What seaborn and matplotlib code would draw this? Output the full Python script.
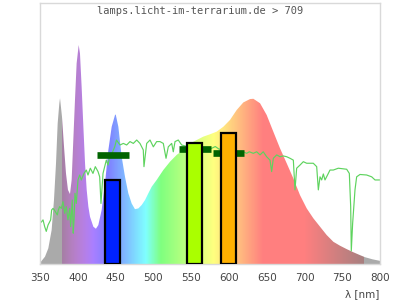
import numpy as np
import matplotlib
matplotlib.use("Agg")
import matplotlib.pyplot as plt
import seaborn as sns

# ---- data ----
spec_nm = [350, 351.3, 356.6, 361, 365.4, 368.5, 371.2, 373.4, 375.6, 376.5, 379.1, 381.8,
           384.4, 387, 389.7, 391.9, 394.1, 396.3, 398.5, 401.2, 402.9, 405.1, 407.4, 409.6,
           411.8, 414, 416.2, 420.6, 424, 427.2, 431.6, 436, 440.5, 444.9, 449.3, 450.2,
           453.7, 458.1, 462.5, 466.9, 471.3, 475.7, 480.2, 484.6, 489, 493.4, 497.8, 504.4,
           513.2, 522.1, 530.9, 539.7, 548.5, 557.4, 566.2, 575, 583.8, 592.7, 601.5, 610.3,
           619.1, 628, 632.4, 641.2, 650, 658.8, 667.7, 676.5, 685.3, 694.1, 703, 711.8,
           720.6, 729.4, 738.3, 747.1, 755.9, 764.7, 773.5, 780.2, 790, 800]
spec_val = [0.005, 0.009, 0.028, 0.06, 0.13, 0.245, 0.386, 0.539, 0.616, 0.635, 0.564, 0.449,
            0.347, 0.284, 0.268, 0.322, 0.475, 0.628, 0.769, 0.839, 0.807, 0.679, 0.526, 0.386,
            0.284, 0.22, 0.181, 0.143, 0.135, 0.149, 0.207, 0.309, 0.437, 0.526, 0.571, 0.573,
            0.526, 0.411, 0.334, 0.271, 0.232, 0.21, 0.213, 0.226, 0.245, 0.271, 0.296, 0.322,
            0.36, 0.392, 0.418, 0.437, 0.462, 0.475, 0.488, 0.497, 0.507, 0.526, 0.552, 0.59,
            0.619, 0.632, 0.633, 0.616, 0.571, 0.507, 0.443, 0.386, 0.328, 0.264, 0.213, 0.175,
            0.143, 0.111, 0.085, 0.07, 0.057, 0.045, 0.034, 0.026, 0.018, 0.012]

sun_nm = [351.5, 354, 356.2, 358.3, 360.6, 364.1, 365.4, 367.2, 369.4, 372.9, 374.3, 376,
          378.2, 380.4, 382.7, 384.8, 387, 389.3, 390.6, 392.7, 394, 395, 396.3, 398, 400.3,
          402.5, 404.7, 408.2, 411.3, 413.5, 416.6, 420.1, 423.2, 426.8, 429, 430.7, 433.4,
          435.6, 437.8, 440, 442.2, 445.3, 448.9, 451.2, 455.9, 460.3, 464.7, 469.1, 473.5,
          478, 482.3, 486.7, 487.6, 491.2, 495.6, 500, 504.4, 508.8, 513.2, 516.8, 519.8,
          524.3, 526.4, 528.7, 533, 537.5, 545, 555, 565, 570, 577, 582, 587, 600, 612, 619,
          623.5, 627, 632.3, 636.8, 641.2, 645.5, 650, 654.4, 656.6, 658.8, 663.3, 667.6,
          672, 676.5, 680.9, 685.3, 687.5, 689.7, 694.1, 698.5, 703, 711.7, 716.2, 718.4,
          720.6, 722.8, 725, 727.2, 731.6, 733.8, 738.2, 744.8, 755.9, 759.4, 761.2, 762,
          763.8, 766.9, 769.1, 773.5, 782.3, 789, 793.4, 800]
sun_val = [0.160, 0.169, 0.143, 0.125, 0.149, 0.169, 0.207, 0.213, 0.205, 0.188, 0.207, 0.22,
           0.213, 0.239, 0.194, 0.22, 0.169, 0.213, 0.143, 0.245, 0.118, 0.169, 0.271, 0.232,
           0.322, 0.341, 0.322, 0.347, 0.36, 0.341, 0.367, 0.347, 0.373, 0.354, 0.334, 0.232,
           0.347, 0.373, 0.398, 0.379, 0.411, 0.424, 0.449, 0.475, 0.456, 0.462, 0.456, 0.469,
           0.462, 0.475, 0.462, 0.437, 0.373, 0.462, 0.475, 0.449, 0.469, 0.469, 0.462, 0.405,
           0.449, 0.462, 0.43, 0.469, 0.475, 0.456, 0.45, 0.44, 0.44, 0.435, 0.443, 0.45, 0.44,
           0.44, 0.43, 0.43, 0.424, 0.43, 0.424, 0.43, 0.418, 0.43, 0.411, 0.398, 0.354, 0.405,
           0.418, 0.411, 0.414, 0.411, 0.405, 0.398, 0.284, 0.367, 0.379, 0.392, 0.386, 0.386,
           0.373, 0.284, 0.334, 0.322, 0.345, 0.322, 0.347, 0.36, 0.36, 0.367, 0.363, 0.347,
           0.22, 0.05, 0.156, 0.284, 0.334, 0.343, 0.341, 0.334, 0.322, 0.322]

bar_nm = [445.5, 554.5, 600]
bar_val = [0.322, 0.465, 0.503]
bar_colors = ["#0022ff", "#aaff00", "#ffb000"]

mark_nm = [446.5, 555.5, 599.5]
mark_val = [0.416, 0.439, 0.424]

title = "lamps.licht-im-terrarium.de > 709"
xticks = [350, 400, 450, 500, 550, 600, 650, 700, 750, 800]


def wl_rgb(w):
    """Spectral colour, blended 50% with white (style only)."""
    if w < 379 or w > 779:
        return (0.667, 0.667, 0.667)
    if w < 440:
        r, g, b = -(w - 440) / 60.0, 0.0, 1.0
    elif w < 490:
        r, g, b = 0.0, (w - 440) / 50.0, 1.0
    elif w < 510:
        r, g, b = 0.0, 1.0, -(w - 510) / 20.0
    elif w < 580:
        r, g, b = (w - 510) / 70.0, 1.0, 0.0
    elif w < 645:
        r, g, b = 1.0, -(w - 645) / 65.0, 0.0
    else:
        r, g, b = 1.0, 0.0, 0.0
    if w < 420:
        f = 0.3 + 0.7 * (w - 380) / 40.0
    elif w > 700:
        f = 0.3 + 0.7 * (780 - w) / 80.0
    else:
        f = 1.0
    f = max(f, 0.3)
    return tuple(0.5 + 0.5 * c * f for c in (r, g, b))


sns.set_style("white")
fig = plt.figure(figsize=(4, 3), dpi=100)
ax = fig.add_axes([0.1, 0.12, 0.85, 0.87])

# spectrum: polygon used as clip path for a rainbow gradient
poly = ax.fill_between(spec_nm, spec_val, color="none", lw=0)
grad_x = np.arange(350, 800.01, 0.5)
img = np.array([wl_rgb(w) for w in grad_x])[None, :, :]
im = ax.imshow(img, extent=[350, 800, 0, 1], aspect="auto", zorder=1,
               interpolation="nearest")
im.set_clip_path(poly.get_paths()[0], ax.transData)

# reference (sunlight) line
sns.lineplot(x=sun_nm, y=sun_val, ax=ax, color="#5ed35e", lw=0.85,
             sort=False, estimator=None, zorder=2)

# dark green markers
ax.hlines(mark_val, [m - 21 for m in mark_nm], [m + 21 for m in mark_nm],
          color="#006400", lw=4.8, zorder=3)

# bars
ax.bar(bar_nm, bar_val, width=20, color=bar_colors, edgecolor="black",
       linewidth=1.6, zorder=4)

ax.set_xlim(350, 800)
ax.set_ylim(0, 1)
ax.set_xticks(xticks)
ax.set_xticklabels([str(t) for t in xticks])
ax.set_yticks([])
ax.tick_params(axis="x", length=0, pad=6.5, labelsize=7.5, labelcolor="#444444")
for s in ax.spines.values():
    s.set_color("#d9d9d9")
    s.set_linewidth(1.0)
ax.set_xlabel("")
ax.set_ylabel("")

fig.text(0.5, 1 - 11 / 300, title, ha="center", va="center",
         family="DejaVu Sans Mono", fontsize=7.5, color="#555555")
fig.text(0.9475, 1 - 294.5 / 300, "λ [nm]", ha="right", va="center",
         fontsize=7.5, color="#444444")

fig.savefig("out.png", dpi=100)
